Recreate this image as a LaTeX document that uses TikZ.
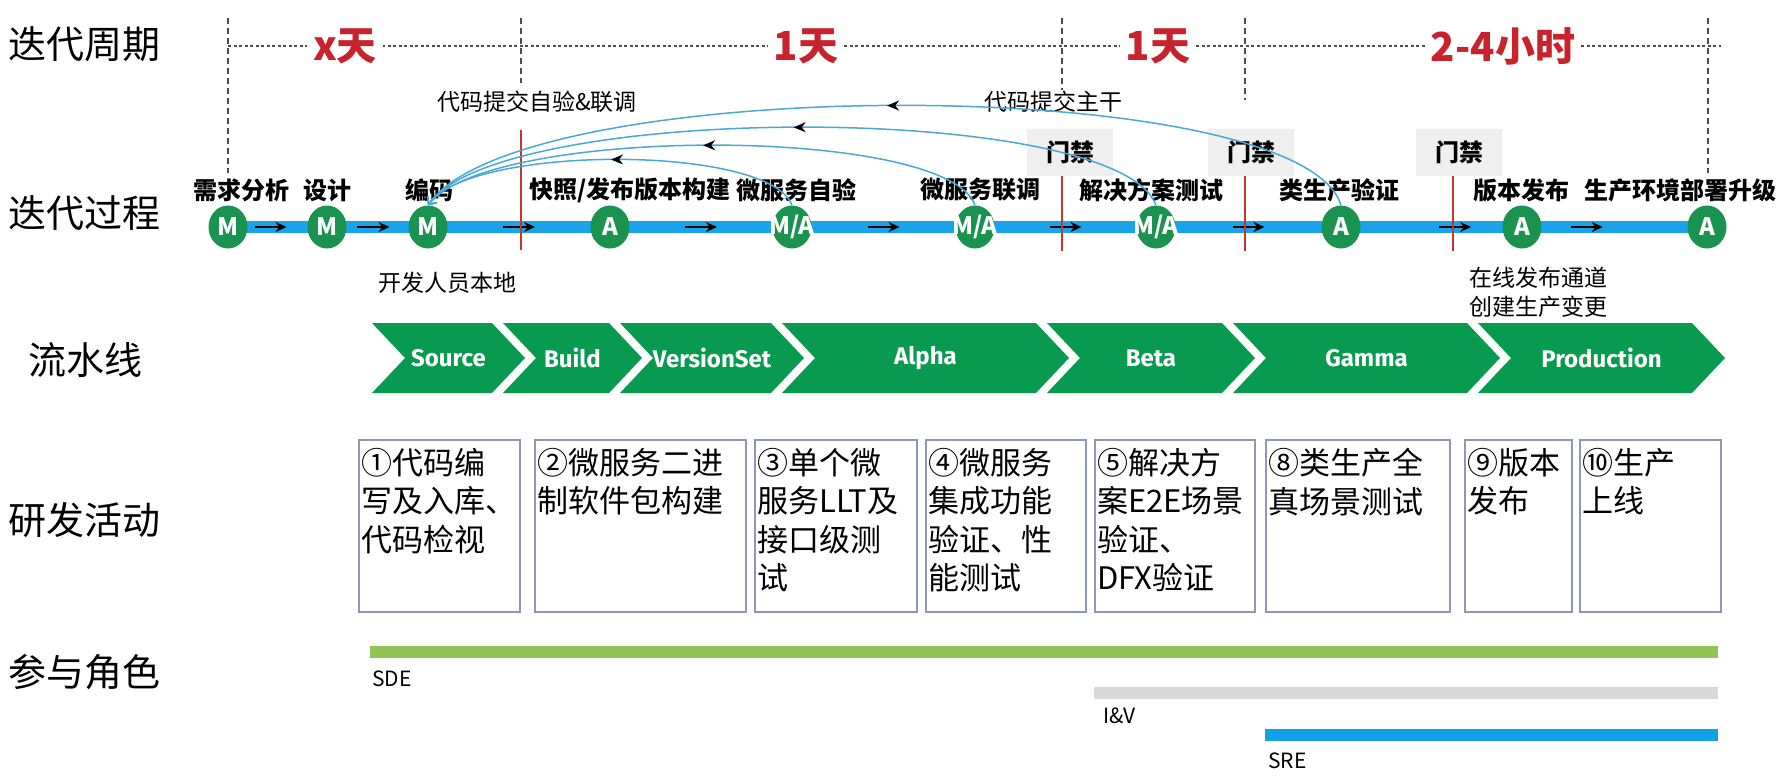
\documentclass[tikz,border=0pt]{standalone}
\usepackage{fontspec}
\setmainfont{Noto Sans CJK SC}
\newfontfamily\pipefont{Fira Sans}
\usepackage{tikz}
\usetikzlibrary{positioning,calc,shapes.geometric,backgrounds,arrows.meta,decorations.markings}
\definecolor{stagegreen}{HTML}{1A9350}
\definecolor{pipegreen}{HTML}{089A4F}
\definecolor{flowblue}{HTML}{1AA3EA}
\definecolor{commitblue}{HTML}{4AA8D8}
\definecolor{gatered}{HTML}{C0392B}
\definecolor{periodred}{HTML}{C8232C}
\definecolor{gatebg}{HTML}{EFEFEF}
\definecolor{boxline}{HTML}{8C99B5}
\definecolor{sde}{HTML}{92C353}
\definecolor{iv}{HTML}{D9D9D9}
\definecolor{sre}{HTML}{14A0E6}
\newcommand{\pxfont}[2]{\fontsize{#1}{#2}\selectfont}

\begin{document}
\begin{tikzpicture}[x=1pt, y=-1pt,
    head/.style={font=\pxfont{38}{44}},
    period/.style={font=\pxfont{40}{44}\bfseries, text=periodred, fill=white, inner xsep=6pt, inner ysep=0pt},
    stage/.style={ellipse, fill=stagegreen, minimum width=39pt, minimum height=43pt, inner sep=0pt,
                  text=white, font=\pxfont{24}{24}\bfseries},
    lbl/.style={font=\pxfont{24}{24}\bfseries},
    note/.style={font=\pxfont{23}{29}, align=center},
    gate/.style={fill=gatebg, minimum width=86pt, minimum height=47pt, font=\pxfont{24}{24}\bfseries},
    pipetext/.style={text=white, font=\pipefont\pxfont{24}{24}\bfseries},
    actbox/.style={draw=boxline, line width=1.5pt, anchor=north west, minimum height=172pt, inner sep=0pt},
    acttext/.style={anchor=north west, align=left, inner sep=0pt, font=\pxfont{31}{38.5}},
    role/.style={font=\pxfont{21}{21}, anchor=west, inner sep=0pt},
    phaseline/.style={dash pattern=on 6pt off 4pt, line width=1.3pt, color=black!70},
    periodline/.style={dash pattern=on 3pt off 2.5pt, line width=1.3pt, color=black!70},
    flow/.style={-{Stealth[length=11pt,width=10pt]}, line width=2.5pt},
    backflow/.style={commitblue, line width=1.5pt, -{Straight Barb[length=6pt,width=11pt]},
      postaction={decorate},
      decoration={markings, mark=at position 0.5 with {\arrow[black]{Stealth[length=12pt,width=10pt]}}}},
    gateline/.style={gatered, line width=1.2pt}
  ]
    \useasboundingbox (0,0) rectangle (1783,777);

    \node[head] (h1) at (85,44) {迭代周期};
    \node[head] (h2) at (85,213) {迭代过程};
    \node[head] (h3) at (85,360) {流水线};
    \node[head] (h4) at (85,520) {研发活动};
    \node[head] (h5) at (85,672) {参与角色};

    \draw[phaseline] (228,18) -- (228,173);
    \draw[phaseline] (521,18) -- (521,83);
    \draw[phaseline] (1062,18) -- (1062,90);
    \draw[phaseline] (1245,18) -- (1245,100);
    \draw[phaseline] (1708,18) -- (1708,173);
    \draw[periodline] (228,46) -- (1721,46);
    \node[period] (c1) at (345,46) {x天};
    \node[period] (c2) at (806,46) {1天};
    \node[period] (c3) at (1158,46) {1天};
    \node[period] (c4) at (1503,46) {2-4小时};

    \node[stage] (n1) at (228,227) {M};
    \node[stage] (n2) at (327,227) {M};
    \node[stage] (n3) at (428,227) {M};
    \node[stage] (n4) at (610,227) {A};
    \node[stage] (n5) at (792,227) {\makebox[0pt]{M/A}};
    \node[stage] (n6) at (975,227) {\makebox[0pt]{M/A}};
    \node[stage] (n7) at (1156,227) {\makebox[0pt]{M/A}};
    \node[stage] (n8) at (1341,227) {A};
    \node[stage] (n9) at (1522,227) {A};
    \node[stage] (n10) at (1707,227) {A};
    \begin{scope}[on background layer]
      \draw[flowblue, line width=12pt] (n1.center) -- (n10.center);
    \end{scope}
    \foreach \a/\b/\f in {n1/n2/.43, n2/n3/.46, n3/n4/.5, n4/n5/.5, n5/n6/.5,
                          n6/n7/.5, n7/n8/.5, n8/n9/.63, n9/n10/.35}
      \draw[flow] ($(\a)!\f!(\b)$) +(-16,0) -- +(16,0);

    \draw[gateline] (521,130) -- (521,250);
    \node[gate] (g1) at (1070,152) {门禁};
    \node[gate] (g2) at (1251,152) {门禁};
    \node[gate] (g3) at (1459,152) {门禁};
    \draw[gateline] ([xshift=-8pt]g1.south) -- ++(0,75);
    \draw[gateline] ([xshift=-6pt]g2.south) -- ++(0,75);
    \draw[gateline] ([xshift=-6pt]g3.south) -- ++(0,75);

    \node[lbl] (l1) at (241,190) {需求分析};
    \node[lbl] (l2) at (327,190) {设计};
    \node[lbl] (l3) at (429,190) {编码};
    \node[lbl] (l4) at (630,190) {快照/发布版本构建};
    \node[lbl] (l5) at (796,190) {微服务自验};
    \node[lbl] (l6) at (980,190) {微服务联调};
    \node[lbl] (l7) at (1151,190) {解决方案测试};
    \node[lbl] (l8) at (1339,190) {类生产验证};
    \node[lbl] (l9) at (1521,190) {版本发布};
    \node[lbl] (l10) at (1680,190) {生产环境部署升级};

    \node[note] (d1) at (447,283) {开发人员本地};
    \node[note] (d2) at (1538,292) {在线发布通道\\创建生产变更};
    \node[note] (d3) at (537,102) {代码提交自验\&联调};
    \node[note] (d4) at (1053,102) {代码提交主干};

    \draw[backflow] (n5.north) .. controls +(-22,-61) and +(42,-61) .. (n3.north);
    \draw[backflow] (n6.north) .. controls +(-27,-80) and +(62,-80) .. (n3.north);
    \draw[backflow] (n7.north) .. controls +(-37,-104) and +(72,-104) .. (n3.north);
    \draw[backflow] (n8.north) .. controls +(-40,-133) and +(92,-133) .. (n3.north);

    \foreach \l/\r/\t in {372/525/Source, 503/642/Build, 620/804/VersionSet, 782/1069/Alpha,
                          1047/1255/Beta, 1233/1500/Gamma, 1478/1725/Production} {
      \fill[pipegreen] (\l,323) -- (\r-33,323) -- (\r,358) -- (\r-33,393) -- (\l,393) -- (\l+33,358) -- cycle;
      \node[pipetext] (p-\t) at ({(\l+\r)/2},358) {\t};
    }

    \node[actbox, minimum width=161pt] (b1) at (358,439) {};
    \node[actbox, minimum width=211pt] (b2) at (534,439) {};
    \node[actbox, minimum width=162pt] (b3) at (754,439) {};
    \node[actbox, minimum width=160pt] (b4) at (925,439) {};
    \node[actbox, minimum width=160pt] (b5) at (1094,439) {};
    \node[actbox, minimum width=184pt] (b8) at (1265,439) {};
    \node[actbox, minimum width=107pt] (b9) at (1464,439) {};
    \node[actbox, minimum width=141pt] (b10) at (1579,439) {};
    \node[acttext] (a1) at ([xshift=3pt,yshift=-9pt]b1.north west) {①代码编\\写及入库、\\代码检视};
    \node[acttext] (a2) at ([xshift=3pt,yshift=-9pt]b2.north west) {②微服务二进\\制软件包构建};
    \node[acttext] (a3) at ([xshift=3pt,yshift=-9pt]b3.north west) {③单个微\\服务LLT及\\接口级测\\试};
    \node[acttext] (a4) at ([xshift=3pt,yshift=-9pt]b4.north west) {④微服务\\集成功能\\验证、性\\能测试};
    \node[acttext] (a5) at ([xshift=3pt,yshift=-9pt]b5.north west) {⑤解决方\\案E2E场景\\验证、\\DFX验证};
    \node[acttext] (a8) at ([xshift=3pt,yshift=-9pt]b8.north west) {⑧类生产全\\真场景测试};
    \node[acttext] (a9) at ([xshift=3pt,yshift=-9pt]b9.north west) {⑨版本\\发布};
    \node[acttext] (a10) at ([xshift=3pt,yshift=-9pt]b10.north west) {⑩生产\\上线};

    \fill[sde] (370,646) rectangle (1718,658);
    \fill[iv] (1094,687) rectangle (1718,699);
    \fill[sre] (1265,729) rectangle (1718,741);
    \node[role] (r1) at (372,679) {SDE};
    \node[role] (r2) at (1103,716) {I\&V};
    \node[role] (r3) at (1268,761) {SRE};
  \end{tikzpicture}
\end{document}
